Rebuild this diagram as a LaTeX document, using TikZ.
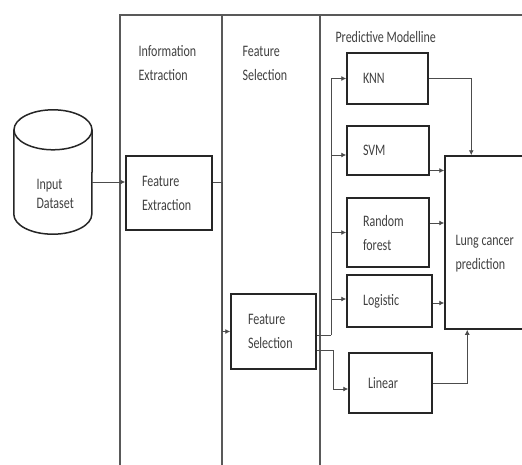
\documentclass[tikz,border=0pt]{standalone}
\usepackage{fontspec}
\setmainfont{Carlito}[FakeStretch=0.75]
\usetikzlibrary{arrows.meta}
\begin{document}
\begin{tikzpicture}[x=1pt, y=-1pt,
    every node/.style={font=\fontsize{16}{24}\selectfont, text=black!75},
    box/.style={draw=black!85, line width=1.5pt, align=left, inner xsep=16pt, inner ysep=0pt},
    db/.style={draw=black!85, line width=1.5pt},
    conn/.style={draw=black!70, line width=0.9pt},
    arr/.style={conn, -{Latex[length=5pt,width=5pt]}},
    frame/.style={draw=black!65, line width=1.2pt}]
    \clip (0,0) rectangle (522,464);
    % columns
    \draw[frame] (120,470) -- (120,15) -- (530,15);
    \draw[frame] (222,15) -- (222,470);
    \draw[frame] (320,15) -- (320,470);
    \node[anchor=west, align=left] (infohead) at (135,63) {Information\\Extraction};
    \node[anchor=west, align=left] (selhead) at (239,63) {Feature\\Selection};
    \node[anchor=west] (predhead) at (332,37) {Predictive Modelline};
    % input
    \node[minimum width=78pt, minimum height=124pt, inner sep=0pt] (data) at (53,172) {};
    \draw[db] ([yshift=-20pt]data.north) ellipse [x radius=39, y radius=20];
    \draw[db] ([yshift=-20pt]data.north west) -- ([yshift=20pt]data.south west)
        arc [start angle=180, end angle=0, x radius=39, y radius=20] -- ([yshift=-20pt]data.north east);
    \node[anchor=west, align=left, font=\fontsize{16}{19}\selectfont] (datatext) at (33,194) {Input\\Dataset};
    % boxes
    \node[box, text width=54pt, inner xsep=16pt, minimum height=74pt] (fe) at (169,193) {Feature\\Extraction};
    \node[box, text width=51pt, inner xsep=17pt, minimum height=75pt] (fs) at (273.5,331.5) {Feature\\Selection};
    \node[box, text width=49pt, minimum height=51pt] (knn) at (387.5,78.5) {KNN};
    \node[box, text width=50pt, minimum height=49pt] (svm) at (388,150.5) {SVM};
    \node[box, text width=50pt, minimum height=69pt] (rf) at (388,232.5) {Random\\forest};
    \node[box, text width=53pt, minimum height=52pt] (lg) at (389.5,301) {Logistic};
    \node[box, text width=45pt, inner xsep=19pt, minimum height=60pt] (lin) at (390.5,383) {Linear};
    \node[box, minimum width=100pt, minimum height=173pt] (lcp) at (495,242.5) {};
    \node[anchor=west, align=left] (lcptext) at (452,253.5) {Lung cancer\\prediction};
    % connectors
    \draw[arr] ([yshift=-10pt]data.east) -- ([yshift=-10pt]data.east -| fe.west);
    \draw[arr] ([yshift=11pt]fe.east) -- ++(10,0) |- (fs.west);
    \coordinate (bus) at (331,335);
    \draw[conn] ([yshift=-3.5pt]fs.east) -- (bus);
    \draw[arr] (bus) |- (knn.west);
    \draw[arr] (bus) |- ([yshift=-4.5pt]svm.west);
    \draw[arr] (bus) |- (rf.west);
    \draw[arr] (bus) |- ([yshift=2pt]lg.west);
    \draw[arr] ([yshift=-18.5pt]fs.east) -- ++(17,0) |- ([yshift=-6pt]lin.west);
    \draw[arr] (knn.east) -| ([xshift=27pt]lcp.north west);
    \draw[arr] ([yshift=-20pt]svm.east) -- ([yshift=-20pt]svm.east -| lcp.west);
    \draw[arr] ([yshift=9.5pt]rf.east) -- ([yshift=9.5pt]rf.east -| lcp.west);
    \draw[arr] ([yshift=-2pt]lg.east) -- ([yshift=-2pt]lg.east -| lcp.west);
    \draw[arr] (lin.east) -| ([xshift=23pt]lcp.south west);
\end{tikzpicture}
\end{document}
